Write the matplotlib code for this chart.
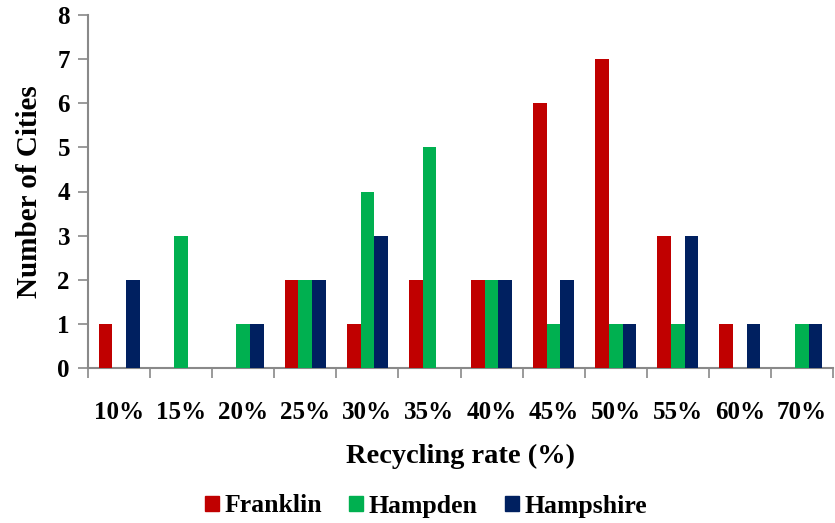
import matplotlib
matplotlib.use("Agg")
import matplotlib.pyplot as plt
import numpy as np
from matplotlib.patches import Patch

categories = ["10%", "15%", "20%", "25%", "30%", "35%", "40%", "45%", "50%", "55%", "60%", "70%"]
franklin = [1, 0, 0, 2, 1, 2, 2, 6, 7, 3, 1, 0]
hampden = [0, 3, 1, 2, 4, 5, 2, 1, 1, 1, 0, 1]
hampshire = [2, 0, 1, 2, 3, 0, 2, 2, 1, 3, 1, 1]
series = [("Franklin", franklin, "#C00000"),
          ("Hampden", hampden, "#00B050"),
          ("Hampshire", hampshire, "#002060")]

plt.rcParams['font.family'] = ['Liberation Serif', 'DejaVu Serif']
plt.rcParams['font.weight'] = 'bold'

fig = plt.figure(figsize=(8.35, 5.23), dpi=100)
ax = fig.add_axes([88/835, 1 - 368/523, (833-88)/835, (368-15)/523])

x = np.arange(len(categories))
w = 0.22
for i, (name, vals, col) in enumerate(series):
    ax.bar(x + (i - 1) * w, vals, width=w, color=col, label=name, zorder=3)

ax.set_xlim(-0.5, len(categories) - 0.5)
ax.set_ylim(0, 8)
ax.set_yticks(range(0, 9))
ax.set_xticks(x)
ax.set_xticklabels(categories)
ax.set_xticks(np.arange(-0.5, len(categories)), minor=True)
ax.tick_params(axis='x', which='major', length=0, pad=24, labelsize=18)
ax.tick_params(axis='x', which='minor', length=7, width=1.2, color='#898989', direction='out')
ax.tick_params(axis='y', length=7, width=1.2, color='#898989', direction='out', labelsize=18, pad=6)
for lab in ax.get_xticklabels() + ax.get_yticklabels():
    lab.set_fontweight('bold')

for s in ['top', 'right']:
    ax.spines[s].set_visible(False)
for s in ['left', 'bottom']:
    ax.spines[s].set_color('#898989')
    ax.spines[s].set_linewidth(1.5)

ax.set_xlabel("Recycling rate (%)", fontsize=20.5, fontweight='bold', labelpad=14)
ax.set_ylabel("Number of Cities", fontsize=21, fontweight='bold', labelpad=10)

handles = [Patch(color=c, label=n) for n, _, c in series]
fig.legend(handles=handles, loc='center', bbox_to_anchor=(0.51, 1 - 506/523), ncol=3,
           frameon=False, prop={'family': 'Liberation Serif', 'weight': 'bold', 'size': 18.5},
           handlelength=0.55, handleheight=0.55, handletextpad=0.22, columnspacing=1.05)

fig.savefig("out.png", dpi=100)
